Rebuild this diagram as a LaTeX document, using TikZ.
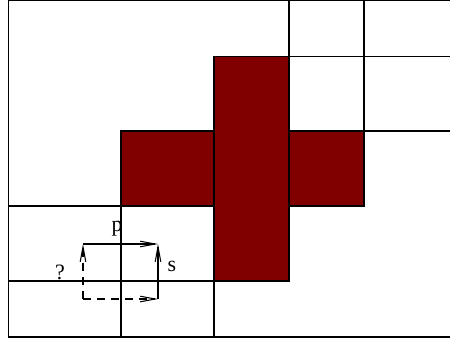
\documentclass[tikz,border=0pt]{standalone}
\usepackage{fontspec}
\setmainfont{Liberation Serif}
\usepackage{tikz}
\usetikzlibrary{arrows.meta}
\definecolor{blockred}{HTML}{800000}

\begin{document}
\begin{tikzpicture}[
    x=0.02cm, y=-0.02cm,
    grid/.style={black, line width=0.6pt},
    block/.style={fill=blockred, draw=black, line width=0.6pt},
    move/.style={line width=0.6pt, -{Straight Barb[length=8.5pt, width=3.2pt]}},
    guess/.style={move, dash pattern=on 4.5pt off 3.5pt},
    lab/.style={font=\fontsize{12.5}{14}\selectfont, inner sep=0pt}
]
\useasboundingbox (0,0) rectangle (450,343);

% Frame
\draw[grid] (450,0.5) -- (8.3,0.5) -- (8.3,337) -- (450,337);

% Grid lines, lower left
\draw[grid] (8.3,206) -- (121,206);
\draw[grid] (8.3,281) -- (214,281);
\draw[grid] (121,206) -- (121,337);
\draw[grid] (214,281) -- (214,337);

% Grid lines, upper right
\draw[grid] (289,0.5) -- (289,56.7);
\draw[grid] (364,0.5) -- (364,131);
\draw[grid] (289,56.7) -- (450,56.7);
\draw[grid] (364,131) -- (450,131);
\draw[grid] (289,56.7) -- (289,131) -- (364,131);

% Blocks
\filldraw[block] (121,131) rectangle (214,206);
\filldraw[block] (214,56.7) rectangle (289,281);
\filldraw[block] (289,131) rectangle (364,206);

% Moves
\coordinate (ll) at (83,299);
\coordinate (ul) at (83,244);
\coordinate (ur) at (158,244);
\coordinate (lr) at (158,299);
\draw[guess] (ll) -- (ul);
\draw[guess] (ll) -- (lr);
\draw[move] (ul) -- (ur);
\draw[move] (lr) -- (ur);

% Labels
\node[lab] (p) at (117,229) {p};
\node[lab] (s) at (172,266) {s};
\node[lab] (q) at (60,272) {?};
\end{tikzpicture}
\end{document}
